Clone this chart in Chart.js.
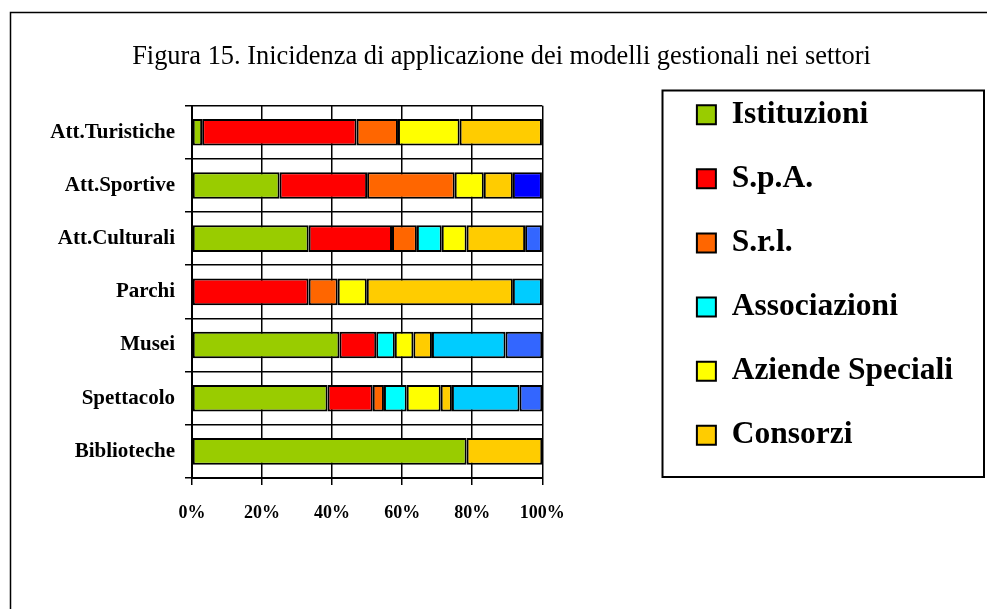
<!DOCTYPE html>
<html>
<head>
<meta charset="utf-8">
<script src="https://cdn.jsdelivr.net/npm/chart.js@4"></script>
<style>
  body { margin: 0; background: #fff; }
</style>
</head>
<body>
<canvas id="grafico" width="987" height="609"></canvas>
<script>
const categorie = ['Att.Turistiche', 'Att.Sportive', 'Att.Culturali', 'Parchi', 'Musei', 'Spettacolo', 'Biblioteche'];

// quote percentuali
const istituzioni     = [2.9, 25.0, 33.3, 0, 42.1, 38.7, 78.4];
const spa             = [44.1, 25.0, 23.8, 33.3, 10.5, 12.9, 0];
const srl             = [11.8, 25.0, 7.1, 8.3, 0, 3.2, 0];
const associazioni    = [0, 0, 7.1, 0, 5.3, 6.5, 0];
const aziendeSpeciali = [17.6, 8.3, 7.1, 8.3, 5.3, 9.7, 0];
const consorzi        = [23.5, 8.3, 16.7, 41.7, 5.3, 3.2, 21.6];
const fondazioni      = [0, 0, 0, 8.3, 21.0, 19.3, 0];
const altroA          = [0, 8.3, 0, 0, 0, 0, 0];
const altroB          = [0, 0, 4.8, 0, 10.5, 6.5, 0];

const serie = [
    ['Istituzioni', istituzioni, '#99CC00'],
    ['S.p.A.', spa, '#FF0000'],
    ['S.r.l.', srl, '#FF6600'],
    ['Associazioni', associazioni, '#00FFFF'],
    ['Aziende Speciali', aziendeSpeciali, '#FFFF00'],
    ['Consorzi', consorzi, '#FFCC00'],
    ['Fondazioni', fondazioni, '#00CCFF'],
    ['Altro', altroA, '#0000FF'],
    ['Altre forme', altroB, '#3366FF']
];

const FONT = "'Liberation Serif', 'Times New Roman', serif";

const cornice = {
    id: 'cornice',
    beforeDraw(chart) {
        const ctx = chart.ctx;
        ctx.save();
        ctx.fillStyle = '#fff';
        ctx.fillRect(0, 0, chart.width, chart.height);
        ctx.restore();
    },
    afterDraw(chart) {
        const ctx = chart.ctx;
        ctx.save();
        ctx.strokeStyle = '#000';
        ctx.lineWidth = 1.5;
        ctx.beginPath();
        ctx.moveTo(10.5, chart.height);
        ctx.lineTo(10.5, 12.5);
        ctx.lineTo(chart.width, 12.5);
        ctx.stroke();
        // riquadro della legenda
        ctx.lineWidth = 2;
        ctx.strokeRect(662.5, 90.5, 321.5, 386.5);
        ctx.restore();
    }
};

new Chart(document.getElementById('grafico'), {
    type: 'bar',
    data: {
        labels: categorie,
        datasets: serie.map(([nome, valori, colore]) => ({
            label: nome,
            data: valori,
            backgroundColor: colore,
            borderColor: '#000',
            borderWidth: 2,
            borderSkipped: false,
            barPercentage: 0.5,
            categoryPercentage: 1
        }))
    },
    options: {
        indexAxis: 'y',
        responsive: false,
        animation: false,
        layout: { padding: { left: 40, right: 24, top: 0, bottom: 59 } },
        scales: {
            x: {
                stacked: true,
                min: 0,
                max: 100,
                ticks: {
                    stepSize: 20,
                    padding: 18,
                    color: '#000',
                    font: { family: FONT, size: 18, weight: 'bold' },
                    callback: v => v + '%'
                },
                grid: { color: '#000', lineWidth: 1.5, tickLength: 7 },
                border: { color: '#000', width: 2 },
                afterFit: s => { s.height = 72; }
            },
            y: {
                stacked: true,
                ticks: {
                    padding: 10,
                    color: '#000',
                    font: { family: FONT, size: 21, weight: 'bold' }
                },
                grid: { color: '#000', lineWidth: 1.5, tickLength: 7 },
                border: { color: '#000', width: 2 },
                afterFit: s => { s.width = 152; }
            },
            spazio: {
                type: 'linear',
                axis: 'y',
                position: 'right',
                grid: { display: false },
                ticks: { display: false },
                border: { display: false },
                afterFit: s => { s.width = 122; }
            }
        },
        plugins: {
            title: {
                display: true,
                text: 'Figura 15. Inicidenza di applicazione dei modelli gestionali nei settori',
                color: '#000',
                font: { family: FONT, size: 26.4, weight: 'normal' },
                padding: { top: 41, bottom: 33 }
            },
            legend: {
                position: 'right',
                maxWidth: 400,
                labels: {
                    color: '#000',
                    boxWidth: 19,
                    boxHeight: 19,
                    padding: 32.6,
                    font: { family: FONT, size: 31.5, weight: 'bold' },
                    filter: item => item.datasetIndex < 6
                }
            },
            tooltip: { enabled: false }
        }
    },
    plugins: [cornice]
});
</script>
</body>
</html>
